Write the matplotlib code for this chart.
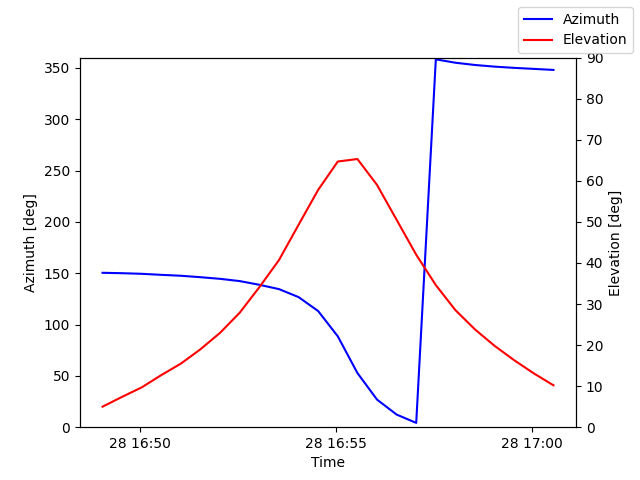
import datetime

import numpy as np
import matplotlib
matplotlib.use('Agg')
import matplotlib.pyplot as plt

# pass samples, every 30 s
t0 = datetime.datetime(2023, 2, 28, 16, 49, 3)
times = [t0 + datetime.timedelta(seconds=30 * i) for i in range(24)]

azimuth = [150.4, 150.0, 149.4, 148.4, 147.5, 146.1, 144.5, 142.3, 138.7,
           134.5, 126.7, 113.1, 88.5, 52.8, 26.9, 12.3, 4.2, 358.3, 355.0,
           352.8, 351.2, 350.0, 349.0, 348.0]
elevation = [5.0, 7.4, 9.7, 12.7, 15.5, 19.0, 23.0, 27.9, 34.1, 40.7, 49.3,
             57.8, 64.7, 65.3, 59.0, 50.5, 42.0, 34.6, 28.5, 23.8, 19.8,
             16.3, 13.1, 10.2]

fig, ax1 = plt.subplots(figsize=(6.4, 4.8))
ax1.plot(times, azimuth, 'b-', label='Azimuth')
ax1.set_ylim(0, 360)
ax1.set_xlabel('Time')
ax1.set_ylabel('Azimuth [deg]')

ax2 = ax1.twinx()
ax2.plot(times, elevation, 'r-', label='Elevation')
ax2.set_ylim(0, 90)
ax2.set_ylabel('Elevation [deg]')

fig.legend()
fig.savefig('out.png', dpi=100)
